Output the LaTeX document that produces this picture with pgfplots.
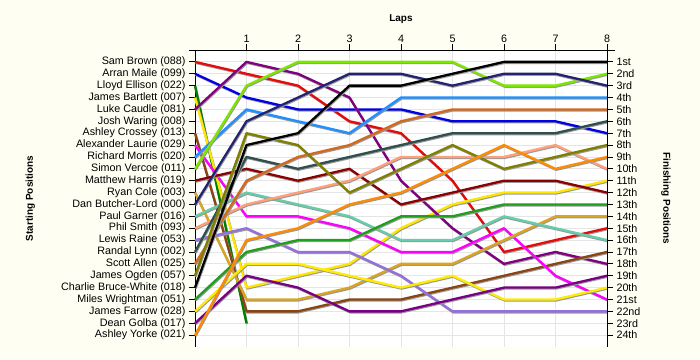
\documentclass[border=0pt]{standalone}
\usepackage{pgfplots}
\pgfplotsset{compat=1.18}
\usepackage{fontspec}
\setmainfont{Liberation Sans}
\definecolor{cream}{RGB}{255,254,242}
\definecolor{cRed}{RGB}{230,10,10}
\definecolor{cBlue}{RGB}{0,0,230}
\definecolor{cGreenA}{RGB}{0,128,0}
\definecolor{cGreenB}{RGB}{30,160,30}
\definecolor{cYellowA}{RGB}{255,230,0}
\definecolor{cYellowB}{RGB}{255,236,0}
\definecolor{cPurpleA}{RGB}{128,0,128}
\definecolor{cPurpleB}{RGB}{120,0,130}
\definecolor{cBrown}{RGB}{139,69,19}
\definecolor{cMagenta}{RGB}{255,0,255}
\definecolor{cDodger}{RGB}{30,144,255}
\definecolor{cChart}{RGB}{124,230,0}
\definecolor{cDarkRed}{RGB}{139,0,0}
\definecolor{cGold}{RGB}{218,165,32}
\definecolor{cNavy}{RGB}{35,35,112}
\definecolor{cAqua}{RGB}{102,205,170}
\definecolor{cSalmon}{RGB}{255,160,122}
\definecolor{cMedPurple}{RGB}{147,112,219}
\definecolor{cChoc}{RGB}{210,105,30}
\definecolor{cSlate}{RGB}{47,79,79}
\definecolor{cOlive}{RGB}{128,128,0}
\definecolor{cOrange}{RGB}{255,140,0}
\begin{document}
\begin{tikzpicture}
\path[use as bounding box, fill=cream] (-195bp,-13bp) rectangle (505bp,347bp);
\begin{axis}[
  at={(0,0)}, anchor=south west,
  scale only axis, width=412bp, height=297bp,
  xmin=0, xmax=8, ymin=0, ymax=25, y dir=reverse,
  axis x line*=top, axis y line*=left,
  axis line style={-, line width=0.9pt},
  x axis line style={shorten <=-6bp, shorten >=-8bp},
  axis background/.style={fill=white},
  xtick={1,...,8}, ytick={1,...,24},
  yticklabels={Sam Brown (088),Arran Maile (099),Lloyd Ellison (022),James Bartlett (007),Luke Caudle (081),Josh Waring (008),Ashley Crossey (013),Alexander Laurie (029),Richard Morris (020),Simon Vercoe (011),Matthew Harris (019),Ryan Cole (003),Dan Butcher-Lord (000),Paul Garner (016),Phil Smith (093),Lewis Raine (053),Randal Lynn (002),Scott Allen (025),James Ogden (057),Charlie Bruce-White (018),Miles Wrightman (051),James Farrow (028),Dean Golba (017),Ashley Yorke (021)},
  tick align=outside, major tick length=6bp,
  tick style={black, line width=0.8pt},
  tick label style={font=\fontsize{10.8}{12}\selectfont},
  xticklabel style={yshift=-2bp},
  /pgf/number format/assume math mode=true,
  grid=major, grid style={black!10, line width=0.8pt},
  clip=false,
  every axis plot/.append style={line width=2.3pt, line join=round,
    preaction={draw=black!40, line width=2.3pt, transform canvas={shift={(0.6bp,-1bp)}}}},
]
\addplot[cRed] coordinates {(0,1)(1,2)(2,3)(3,6)(4,7)(5,11)(6,17)(7,16)(8,15)};
\addplot[cBlue] coordinates {(0,2)(1,4)(2,5)(3,5)(4,5)(5,6)(6,6)(7,6)(8,7)};
\addplot[cGreenA] coordinates {(0,3)(1,23)};
\addplot[cYellowA] coordinates {(0,4)(1,20)(2,19)(3,18)(4,15)(5,13)(6,12)(7,12)(8,11)};
\addplot[cPurpleA] coordinates {(0,5)(1,1)(2,2)(3,4)(4,11)(5,15)(6,18)(7,17)(8,18)};
\addplot[cBrown] coordinates {(0,7)(1,22)(2,22)(3,21)(4,21)(5,20)(6,19)(7,18)(8,17)};
\addplot[cMagenta] coordinates {(0,8)(1,14)(2,14)(3,15)(4,17)(5,17)(6,15)(7,19)(8,21)};
\addplot[cDodger] coordinates {(0,9)(1,5)(2,6)(3,7)(4,4)(5,4)(6,4)(7,4)(8,4)};
\addplot[cChart] coordinates {(0,10)(1,3)(2,1)(3,1)(4,1)(5,1)(6,3)(7,3)(8,2)};
\addplot[cDarkRed] coordinates {(0,11)(1,10)(2,11)(3,10)(4,13)(5,12)(6,11)(7,11)(8,12)};
\addplot[cGold] coordinates {(0,12)(1,21)(2,21)(3,20)(4,18)(5,18)(6,16)(7,14)(8,14)};
\addplot[cNavy] coordinates {(0,13)(1,6)(2,4)(3,2)(4,2)(5,3)(6,2)(7,2)(8,3)};
\addplot[cAqua] coordinates {(0,14)(1,12)(2,13)(3,14)(4,16)(5,16)(6,14)(7,15)(8,16)};
\addplot[cSalmon] coordinates {(0,15)(1,13)(2,12)(3,11)(4,9)(5,9)(6,9)(7,8)(8,10)};
\addplot[cMedPurple] coordinates {(0,16)(1,15)(2,17)(3,17)(4,19)(5,22)(6,22)(7,22)(8,22)};
\addplot[cSlate] coordinates {(0,17)(1,9)(2,10)(3,9)(4,8)(5,7)(6,7)(7,7)(8,6)};
\addplot[cChoc] coordinates {(0,18)(1,11)(2,9)(3,8)(4,6)(5,5)(6,5)(7,5)(8,5)};
\addplot[cOlive] coordinates {(0,19)(1,7)(2,8)(3,12)(4,10)(5,8)(6,10)(7,9)(8,8)};
\addplot[black] coordinates {(0,20)(1,8)(2,7)(3,3)(4,3)(5,2)(6,1)(7,1)(8,1)};
\addplot[cGreenB] coordinates {(0,21)(1,17)(2,16)(3,16)(4,14)(5,14)(6,13)(7,13)(8,13)};
\addplot[cYellowB] coordinates {(0,22)(1,18)(2,18)(3,19)(4,20)(5,19)(6,21)(7,21)(8,20)};
\addplot[cPurpleB] coordinates {(0,23)(1,19)(2,20)(3,22)(4,22)(5,21)(6,20)(7,20)(8,19)};
\addplot[cOrange] coordinates {(0,24)(1,16)(2,15)(3,13)(4,12)(5,10)(6,8)(7,10)(8,9)};
\node[font=\fontsize{10}{12}\selectfont\bfseries] at (axis description cs:0.5,1.104) {Laps};
\node[font=\fontsize{10}{12}\selectfont\bfseries, rotate=90] at (axis description cs:-0.40,0.5) {Starting Positions};
\node[font=\fontsize{10}{12}\selectfont\bfseries, rotate=-90] at (axis description cs:1.143,0.5) {Finishing Positions};
\end{axis}
\begin{axis}[
  at={(0,0)}, anchor=south west,
  scale only axis, width=412bp, height=297bp,
  xmin=0, xmax=8, ymin=0, ymax=25, y dir=reverse,
  axis x line=none, axis y line*=right,
  axis line style={-, line width=0.9pt},
  ytick={1,...,24},
  yticklabels={1st,2nd,3rd,4th,5th,6th,7th,8th,9th,10th,11th,12th,13th,14th,15th,16th,17th,18th,19th,20th,21st,22nd,23rd,24th},
  tick align=outside, major tick length=6bp,
  tick style={black, line width=0.8pt},
  tick label style={font=\fontsize{10.8}{12}\selectfont},
]
\end{axis}
\end{tikzpicture}
\end{document}
